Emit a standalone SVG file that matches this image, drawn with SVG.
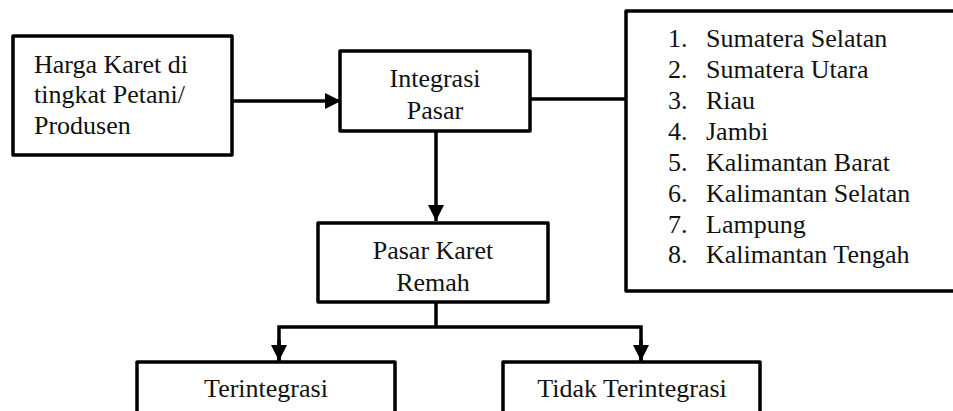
<svg xmlns="http://www.w3.org/2000/svg" width="953" height="411" viewBox="0 0 953 411">
<style>
.box{fill:#fff;stroke:#000;stroke-width:3.5;stroke-linejoin:round}
.t{font-family:"Liberation Serif","Times New Roman",serif;font-size:26px;fill:#111}
.c{text-anchor:middle}
.ln{fill:none;stroke:#000;stroke-width:3.5}
</style>
<defs>
<marker id="ah" markerUnits="userSpaceOnUse" markerWidth="16" markerHeight="16" viewBox="0 0 16 16" refX="16" refY="8" orient="auto">
<path d="M0,0 L16,8 L0,16 Z" fill="#000"/>
</marker>
</defs>
<rect width="953" height="411" fill="#fff"/>
<g id="connectors">
<line class="ln" x1="232" y1="101" x2="341" y2="101" marker-end="url(#ah)"/>
<line class="ln" x1="530" y1="99" x2="626" y2="99"/>
<line class="ln" x1="436" y1="131" x2="436" y2="221" marker-end="url(#ah)"/>
<polyline class="ln" points="436,302 436,327"/>
<polyline class="ln" points="279,361 279,327 641,327 641,361" stroke-linejoin="miter"/>
<line class="ln" x1="279" y1="340" x2="279" y2="361" marker-end="url(#ah)"/>
<line class="ln" x1="641" y1="340" x2="641" y2="361" marker-end="url(#ah)"/>
</g>
<g id="harga">
<rect class="box" x="13" y="36" width="219" height="119"/>
<text class="t" x="34" y="73">Harga Karet di</text>
<text class="t" x="34" y="103">tingkat Petani/</text>
<text class="t" x="34" y="134">Produsen</text>
</g>
<g id="integrasi">
<rect class="box" x="340" y="51" width="190" height="80"/>
<text class="t c" x="435" y="87">Integrasi</text>
<text class="t c" x="435" y="119">Pasar</text>
</g>
<g id="provinsi">
<rect class="box" x="626" y="11" width="340" height="280"/>
<text class="t" x="668" y="47">1.</text><text class="t" x="706" y="47">Sumatera Selatan</text>
<text class="t" x="668" y="78">2.</text><text class="t" x="706" y="78">Sumatera Utara</text>
<text class="t" x="668" y="109">3.</text><text class="t" x="706" y="109">Riau</text>
<text class="t" x="668" y="140">4.</text><text class="t" x="706" y="140">Jambi</text>
<text class="t" x="668" y="171">5.</text><text class="t" x="706" y="171">Kalimantan Barat</text>
<text class="t" x="668" y="202">6.</text><text class="t" x="706" y="202">Kalimantan Selatan</text>
<text class="t" x="668" y="233">7.</text><text class="t" x="706" y="233">Lampung</text>
<text class="t" x="668" y="263">8.</text><text class="t" x="706" y="263">Kalimantan Tengah</text>
</g>
<g id="pasar">
<rect class="box" x="318" y="223" width="230" height="79"/>
<text class="t c" x="433" y="259">Pasar Karet</text>
<text class="t c" x="433" y="291">Remah</text>
</g>
<g id="terintegrasi">
<rect class="box" x="137" y="362" width="258" height="80"/>
<text class="t c" x="266" y="397">Terintegrasi</text>
</g>
<g id="tidak">
<rect class="box" x="503" y="362" width="257" height="80"/>
<text class="t c" x="632" y="397">Tidak Terintegrasi</text>
</g>
</svg>
